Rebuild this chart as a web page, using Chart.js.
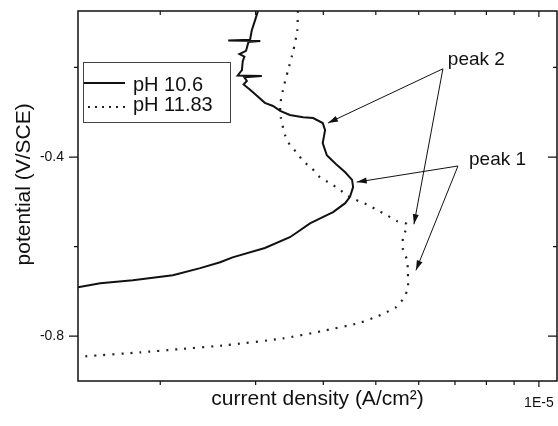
<!doctype html>
<html lang="en">
<head>
    <meta charset="utf-8">
    <title>Polarization curves pH 10.6 / 11.83</title>
    <style>
        * {
            margin: 0;
            padding: 0;
        }

        body {
            background: #fff;
        }

        .chartBox {
            width: 558px;
            height: 426px;
        }
    </style>
</head>
<body>
<div class="chartBox">
    <canvas id="myChart"></canvas>
</div>
<script src="https://cdn.jsdelivr.net/npm/chart.js"></script>
<script>
    // pH 10.6 : current density (A/cm2) and potential (V/SCE)
    const ph106Current = [3.03e-6, 2.99e-6, 2.95e-6, 2.93e-6, 2.67e-6, 3.06e-6, 2.91e-6, 2.88e-6, 2.80e-6, 2.86e-6,
        2.84e-6, 2.83e-6, 2.78e-6, 3.08e-6, 2.86e-6, 2.89e-6, 2.85e-6, 2.93e-6, 3.02e-6, 3.12e-6,
        3.23e-6, 3.33e-6, 3.47e-6, 3.67e-6, 3.83e-6, 3.99e-6, 4.03e-6, 3.99e-6, 4.06e-6, 4.15e-6,
        4.24e-6, 4.39e-6, 4.52e-6, 4.54e-6, 4.48e-6, 4.39e-6, 4.17e-6, 3.99e-6, 3.78e-6, 3.58e-6,
        3.47e-6, 3.12e-6, 2.72e-6, 2.58e-6, 2.37e-6, 2.11e-6, 1.78e-6, 1.55e-6, 1.41e-6];
    const ph106Potential = [-0.074, -0.096, -0.118, -0.138, -0.140, -0.141, -0.143, -0.163, -0.170, -0.176,
        -0.186, -0.206, -0.218, -0.219, -0.222, -0.230, -0.238, -0.250, -0.264, -0.279,
        -0.286, -0.297, -0.306, -0.311, -0.313, -0.324, -0.340, -0.369, -0.396, -0.407,
        -0.418, -0.434, -0.451, -0.467, -0.489, -0.503, -0.523, -0.534, -0.548, -0.568,
        -0.579, -0.603, -0.624, -0.635, -0.648, -0.664, -0.675, -0.682, -0.691];

    // pH 11.83
    const ph1183Current = [3.59e-6, 3.58e-6, 3.52e-6, 3.44e-6, 3.37e-6, 3.33e-6, 3.34e-6, 3.40e-6, 3.47e-6, 3.58e-6,
        3.67e-6, 3.81e-6, 3.94e-6, 4.11e-6, 4.28e-6, 4.44e-6, 4.64e-6, 4.84e-6, 5.02e-6, 5.24e-6,
        5.47e-6, 5.71e-6, 5.66e-6, 5.61e-6, 5.61e-6, 5.71e-6, 5.73e-6, 5.73e-6, 5.63e-6, 5.45e-6,
        5.24e-6, 5.05e-6, 4.64e-6, 3.96e-6, 3.37e-6, 2.65e-6, 2.16e-6, 1.84e-6, 1.45e-6];
    const ph1183Potential = [-0.074, -0.118, -0.163, -0.208, -0.250, -0.284, -0.313, -0.351, -0.373, -0.391,
        -0.409, -0.425, -0.445, -0.458, -0.472, -0.487, -0.498, -0.507, -0.518, -0.530,
        -0.543, -0.550, -0.568, -0.581, -0.606, -0.630, -0.657, -0.693, -0.715, -0.735,
        -0.746, -0.755, -0.771, -0.789, -0.805, -0.820, -0.829, -0.836, -0.845];

    // axes
    const xTicks = [2e-6, 3e-6, 4e-6, 5e-6, 6e-6, 7e-6, 8e-6, 9e-6, 1e-5];
    const xLabels = [1e-5];
    const yTicks = [-0.8, -0.6, -0.4, -0.2];
    const yLabels = [-0.8, -0.4];

    // peak annotations (current, potential)
    const peakNames = ['peak 2', 'peak 1'];
    const peakText = [[6.79e-6, -0.194], [7.43e-6, -0.418]];
    const peakFrom = [[6.65e-6, -0.203], [7.09e-6, -0.420]];
    const peakTo = [
        [[4.08e-6, -0.324], [5.88e-6, -0.550]],
        [[4.61e-6, -0.456], [5.93e-6, -0.653]]
    ];

    const FONT = '"Liberation Sans", Arial, sans-serif';
    Chart.defaults.font.family = FONT;
    Chart.defaults.color = '#111';

    const toPoints = (xs, ys) => xs.map((v, i) => ({x: v, y: ys[i]}));

    const data = {
        datasets: [{
            label: 'pH 10.6',
            data: toPoints(ph106Current, ph106Potential),
            borderColor: '#111',
            borderWidth: 2,
            pointRadius: 0,
            tension: 0
        }, {
            label: 'pH 11.83',
            data: toPoints(ph1183Current, ph1183Potential),
            borderColor: '#222',
            borderWidth: 2.2,
            borderDash: [2, 7],
            pointRadius: 0,
            tension: 0.2
        }]
    };

    function arrow(ctx, x0, y0, x1, y1) {
        const a = Math.atan2(y1 - y0, x1 - x0);
        ctx.beginPath();
        ctx.moveTo(x0, y0);
        ctx.lineTo(x1, y1);
        ctx.stroke();
        ctx.beginPath();
        ctx.moveTo(x1, y1);
        ctx.lineTo(x1 - 10 * Math.cos(a) + 3 * Math.sin(a), y1 - 10 * Math.sin(a) - 3 * Math.cos(a));
        ctx.lineTo(x1 - 10 * Math.cos(a) - 3 * Math.sin(a), y1 - 10 * Math.sin(a) + 3 * Math.cos(a));
        ctx.closePath();
        ctx.fill();
    }

    // frame, ticks on all four sides, legend box and peak arrows
    const frame = {
        id: 'frame',
        afterDatasetsDraw(chart) {
            const {ctx, chartArea: {top, bottom, left, right}, scales: {x, y}} = chart;
            ctx.save();
            ctx.strokeStyle = '#111';
            ctx.fillStyle = '#111';
            ctx.lineWidth = 1.5;
            ctx.strokeRect(left, top, right - left, bottom - top);

            ctx.lineWidth = 1.2;
            ctx.beginPath();
            xTicks.forEach(v => {
                const px = x.getPixelForValue(v);
                const len = xLabels.includes(v) ? 6 : 4;
                ctx.moveTo(px, bottom);
                ctx.lineTo(px, bottom + len);
                ctx.moveTo(px, top);
                ctx.lineTo(px, top + len);
            });
            yTicks.forEach(v => {
                const py = y.getPixelForValue(v);
                const len = yLabels.includes(v) ? 9 : 4;
                ctx.moveTo(left, py);
                ctx.lineTo(left - len, py);
                ctx.moveTo(right, py);
                ctx.lineTo(right - len, py);
            });
            ctx.stroke();

            // legend
            ctx.lineWidth = 1;
            ctx.strokeStyle = '#444';
            ctx.strokeRect(83.5, 62.5, 147, 60);
            ctx.font = '20px ' + FONT;
            ctx.textBaseline = 'alphabetic';
            ctx.textAlign = 'left';
            chart.data.datasets.forEach((ds, i) => {
                const ly = i === 0 ? 83 : 107;
                ctx.save();
                ctx.strokeStyle = ds.borderColor;
                ctx.lineWidth = ds.borderWidth;
                ctx.setLineDash(ds.borderDash ? [2, 5] : []);
                ctx.beginPath();
                ctx.moveTo(i === 0 ? 84 : 88, ly);
                ctx.lineTo(125, ly);
                ctx.stroke();
                ctx.restore();
                ctx.fillText(ds.label, 133, i === 0 ? 91 : 111);
            });

            // peak labels and arrows
            ctx.strokeStyle = '#111';
            ctx.lineWidth = 1;
            ctx.font = '19px ' + FONT;
            peakNames.forEach((name, i) => {
                ctx.fillText(name, x.getPixelForValue(peakText[i][0]), y.getPixelForValue(peakText[i][1]));
                const fx = x.getPixelForValue(peakFrom[i][0]);
                const fy = y.getPixelForValue(peakFrom[i][1]);
                peakTo[i].forEach(t => {
                    arrow(ctx, fx, fy, x.getPixelForValue(t[0]), y.getPixelForValue(t[1]));
                });
            });
            ctx.restore();
        }
    };

    const config = {
        type: 'line',
        data,
        options: {
            responsive: true,
            maintainAspectRatio: false,
            animation: false,
            layout: {
                padding: {left: 0, top: 11, right: 1, bottom: 0}
            },
            plugins: {
                legend: {display: false},
                tooltip: {enabled: false}
            },
            scales: {
                x: {
                    type: 'logarithmic',
                    min: 1.41e-6,
                    max: 1.08e-5,
                    afterBuildTicks: s => { s.ticks = xTicks.map(v => ({value: v})); },
                    afterFit: s => {
                        s.height = 45;
                        s.paddingLeft = 0;
                        s.paddingRight = 0;
                    },
                    grid: {display: false, drawTicks: false},
                    border: {display: false},
                    ticks: {
                        padding: 14,
                        autoSkip: false,
                        maxRotation: 0,
                        font: {size: 14},
                        callback: v => xLabels.includes(v) ? '1E-5' : ''
                    },
                    title: {
                        display: true,
                        text: 'current density (A/cm²)',
                        font: {size: 21},
                        padding: {top: 0, bottom: 14}
                    }
                },
                y: {
                    type: 'linear',
                    min: -0.9,
                    max: -0.074,
                    afterBuildTicks: s => { s.ticks = yTicks.map(v => ({value: v})); },
                    afterFit: s => {
                        s.width = 78;
                        s.paddingTop = 0;
                        s.paddingBottom = 0;
                    },
                    grid: {display: false, drawTicks: false},
                    border: {display: false},
                    ticks: {
                        padding: 14,
                        font: {size: 14},
                        callback: v => yLabels.includes(v) ? v.toFixed(1) : ''
                    },
                    title: {
                        display: true,
                        // leading spaces lift the rotated title a little, as in the original figure
                        text: '    potential (V/SCE)',
                        font: {size: 21},
                        padding: {top: 12, bottom: 0}
                    }
                }
            }
        },
        plugins: [frame]
    };

    const myChart = new Chart(
        document.getElementById('myChart'),
        config
    );
</script>
</body>
</html>
